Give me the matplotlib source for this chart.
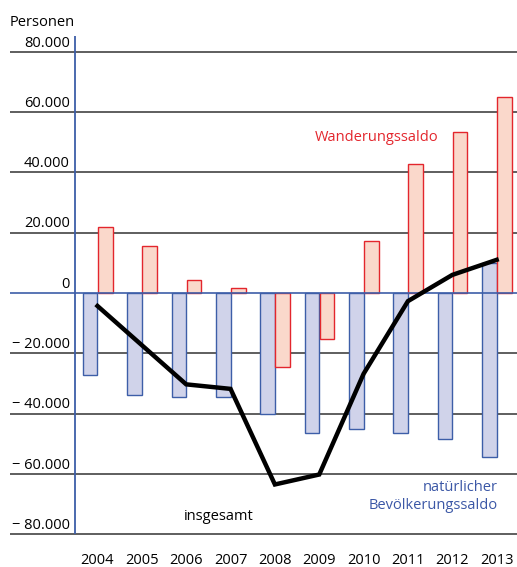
import numpy as np
import matplotlib
matplotlib.use('Agg')
import matplotlib.pyplot as plt

# ----------------------------------------------------------------
# Data
# ----------------------------------------------------------------
years      = ['2004', '2005', '2006', '2007', '2008',
              '2009', '2010', '2011', '2012', '2013']
natuerlich = [-27200, -33800, -34600, -34600, -40000,
              -46500, -45200, -46500, -48500, -54300]
# top edge of the blue bars (the 2013 bar reaches above zero in the original)
natuerlich_top = [0, 0, 0, 0, 0, 0, 0, 0, 0, 10000]
wanderung  = [21900, 15700, 4300, 1600, -24500,
              -15200, 17200, 42800, 53500, 65000]
insgesamt  = [-4300, -17300, -30300, -31800, -63500,
              -60200, -26800, -2700, 6000, 11000]
yticks     = [80000, 60000, 40000, 20000, 0,
              -20000, -40000, -60000, -80000]
ytick_labels = ['80.000', '60.000', '40.000', '20.000', '0',
                '\u2212 20.000', '\u2212 40.000', '\u2212 60.000', '\u2212 80.000']

# ----------------------------------------------------------------
# Style
# ----------------------------------------------------------------
plt.rcParams['font.family'] = ['Open Sans', 'DejaVu Sans']
FS         = 10.5
BLUE_FILL  = '#d0d3ea'
BLUE_EDGE  = '#3d5ea8'
RED_FILL   = '#fad8cb'
RED_EDGE   = '#e3262d'
BLUE_TEXT  = '#3b57a6'
RED_TEXT   = '#e3262d'
GRID       = '#333333'
BAR_W      = 0.33

x = np.arange(len(years))

fig = plt.figure(figsize=(5.17, 5.67), dpi=100)
ax = fig.add_axes([0, 0, 1, 1])
ax.set_xlim(-2.198, 9.459)
ax.set_ylim(-90877, 97180)
ax.axis('off')

# gridlines and labels
for v, lab in zip(yticks, ytick_labels):
    if v == 0:
        ax.hlines(v, -1.973, 9.459, color=BLUE_EDGE, lw=1.2, zorder=4)
    else:
        ax.hlines(v, -1.973, 9.459, color=GRID, lw=1.1, zorder=1)
    ax.text(-0.62, v + 2900, lab, ha='right', va='center', fontsize=FS)

ax.text(-1.973, 89880, 'Personen', ha='left', va='center', fontsize=FS)

# vertical axis
ax.vlines(-0.496, -80000, 85200, color=BLUE_EDGE, lw=1.3, zorder=4)

# bars
bottoms = np.array(natuerlich_top)
ax.bar(x, np.array(natuerlich) - bottoms, bottom=bottoms, width=-BAR_W,
       align='edge', color=BLUE_FILL, edgecolor=BLUE_EDGE, lw=1.0, zorder=2)
ax.bar(x + 0.01, wanderung, width=BAR_W, align='edge',
       color=RED_FILL, edgecolor=RED_EDGE, lw=1.0, zorder=2)

# total line
ax.plot(x, insgesamt, color='black', lw=3.2, solid_joinstyle='miter',
        zorder=5)

# year labels
for xi, yr in zip(x, years):
    ax.text(xi, -88560, yr, ha='center', va='center', fontsize=FS)

# series labels
ax.text(6.29, 51510, 'Wanderungssaldo', color=RED_TEXT, ha='center',
        va='center', fontsize=FS)
ax.text(9.03, -67560, 'natürlicher\nBevölkerungssaldo', color=BLUE_TEXT,
        ha='right', va='center', multialignment='right', fontsize=FS,
        linespacing=1.25)
ax.text(2.73, -74200, 'insgesamt', color='black', ha='center',
        va='center', fontsize=FS)

fig.savefig('out.png', dpi=100)
